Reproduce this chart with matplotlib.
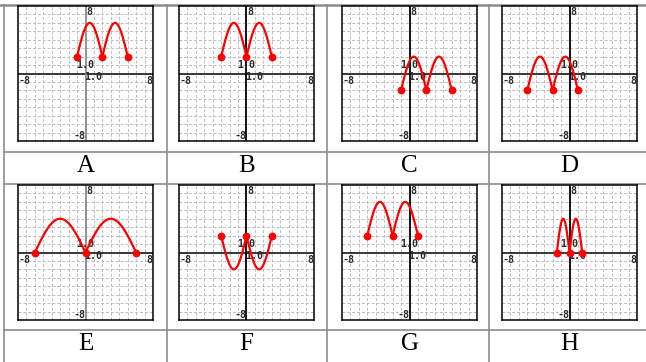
import numpy as np
import matplotlib.pyplot as plt

# ----- DATA -----
labels = ['A', 'B', 'C', 'D', 'E', 'F', 'G', 'H']
# x of the arch end points (two arches per graph)
arch_x = [[-1, 2, 5], [-3, 0, 3], [-1, 2, 5], [-5, -2, 1],
          [-6, 0, 6], [-3, 0, 3], [-5, -2, 1], [-1.5, 0, 1.5]]
# y of the end points and y of the arch tops
base_y = [2, 2, -2, -2, 0, 2, 2, 0]
top_y = [6, 6, 2, 2, 4, -2, 6, 4]
axis_min, axis_max = -8, 8

# ----- LAYOUT (pixels) -----
W, H = 646, 362
box = 135
box_pos = [(18, 6), (179, 6), (342, 6), (502, 6),
           (18, 185), (179, 185), (342, 185), (502, 185)]
label_y = [166, 166, 166, 166, 344, 344, 344, 344]
yaxis_col = ['#8a8a8a', 'k', 'k', 'k', '#8a8a8a', 'k', 'k', 'k']

fig = plt.figure(figsize=(W / 100, H / 100), dpi=100)

# table lines + labels drawn on a background axes in pixel coords
bg = fig.add_axes([0, 0, 1, 1], zorder=0)
bg.set_xlim(0, W)
bg.set_ylim(H, 0)
bg.axis('off')
tcol = '#8c8c8c'
bg.plot([0, W], [5, 5], color=tcol, lw=1.8)
for yy in [152, 184, 330]:
    bg.plot([4, W], [yy, yy], color=tcol, lw=1.2)
for xx in [4, 167, 327, 489]:
    bg.plot([xx, xx], [5, H], color=tcol, lw=1.2)

tick_kw = dict(fontsize=7.2, fontweight='bold', family='DejaVu Sans Mono', color='#2a2a2a')

for i, lab in enumerate(labels):
    x0, y0 = box_pos[i]
    ax = fig.add_axes([x0 / W, 1 - (y0 + box) / H, box / W, box / H], zorder=2)
    ax.set_xlim(axis_min, axis_max)
    ax.set_ylim(axis_min, axis_max)
    ax.set_xticks([])
    ax.set_yticks([])
    for s in ax.spines.values():
        s.set_linewidth(1.1)
        s.set_color('k')

    # dashed grid at every unit
    for g in range(axis_min + 1, axis_max):
        if g == 0:
            continue
        ax.axhline(g, color='#bdbdbd', lw=0.7, ls=(0, (3, 2)), zorder=0)
        ax.axvline(g, color='#bdbdbd', lw=0.7, ls=(0, (3, 2)), zorder=0)
    ax.axhline(0, color='k', lw=1.1, zorder=1)
    ax.axvline(0, color=yaxis_col[i], lw=1.3, zorder=1)

    # axis labels
    ax.text(0.05, 7.3, '8', ha='left', va='center', **tick_kw)
    ax.text(-0.05, -7.4, '-8', ha='right', va='center', **tick_kw)
    ax.text(-7.9, -0.83, '-8', ha='left', va='center', **tick_kw)
    ax.text(7.9, -0.83, '8', ha='right', va='center', **tick_kw)
    ax.text(-0.06, 0.95, '1.0', ha='center', va='center', **tick_kw)
    ax.text(0.95, -0.36, '1.0', ha='center', va='center', **tick_kw)

    # two arches
    xs = arch_x[i]
    t = np.linspace(0, 1, 80)
    for a, b in zip(xs[:-1], xs[1:]):
        px = a + (b - a) * t
        py = base_y[i] + (top_y[i] - base_y[i]) * np.sin(np.pi * t)
        ax.plot(px, py, color='red', lw=1.6, zorder=3)
    ax.plot(xs, [base_y[i]] * len(xs), 'o', color='red', ms=4.6, zorder=4)

    bg.text(x0 + box / 2, label_y[i], lab, ha='center', va='center',
            fontsize=18, family='Liberation Serif', color='k')

plt.savefig('out.png', dpi=100)
